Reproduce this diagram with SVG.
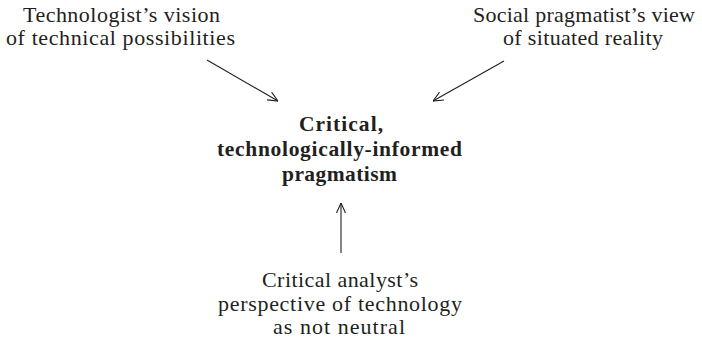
<svg xmlns="http://www.w3.org/2000/svg" width="702" height="345" viewBox="0 0 702 345">
<style>
text{font-family:"Liberation Serif","DejaVu Serif",serif;font-size:22px;fill:#231f20;text-anchor:middle}
.b{font-weight:bold;font-size:21.5px}
.c{stroke:#231f20;stroke-width:1.1;fill:none;marker-end:url(#ah)}
</style>
<defs>
<marker id="ah" viewBox="0 0 10 10" refX="10" refY="5" markerWidth="10" markerHeight="10" markerUnits="userSpaceOnUse" orient="auto">
<path d="M0,0.5 L10,5 L0,9.5" fill="none" stroke="#231f20" stroke-width="1.1"/>
</marker>
</defs>
<rect width="702" height="345" fill="#fff"/>
<g id="technologist">
<text x="121.5" y="22" textLength="197" lengthAdjust="spacing">Technologist’s vision</text>
<text x="120.5" y="45" textLength="229" lengthAdjust="spacing">of technical possibilities</text>
</g>
<g id="social">
<text x="584" y="22" textLength="222" lengthAdjust="spacing">Social pragmatist’s view</text>
<text x="583" y="45" textLength="160" lengthAdjust="spacing">of situated reality</text>
</g>
<g id="center">
<text class="b" x="341" y="131" textLength="84" lengthAdjust="spacing">Critical,</text>
<text class="b" x="339.5" y="156" textLength="245" lengthAdjust="spacing">technologically-informed</text>
<text class="b" x="339.5" y="181" textLength="115" lengthAdjust="spacing">pragmatism</text>
</g>
<g id="critical">
<text x="340" y="287" textLength="156" lengthAdjust="spacing">Critical analyst’s</text>
<text x="340" y="311" textLength="244" lengthAdjust="spacing">perspective of technology</text>
<text x="339" y="334" textLength="132" lengthAdjust="spacing">as not neutral</text>
</g>
<g id="connectors">
<line class="c" x1="207" y1="60" x2="278" y2="101"/>
<line class="c" x1="504" y1="61" x2="433" y2="101"/>
<line class="c" x1="341" y1="253" x2="341" y2="203"/>
</g>
</svg>
